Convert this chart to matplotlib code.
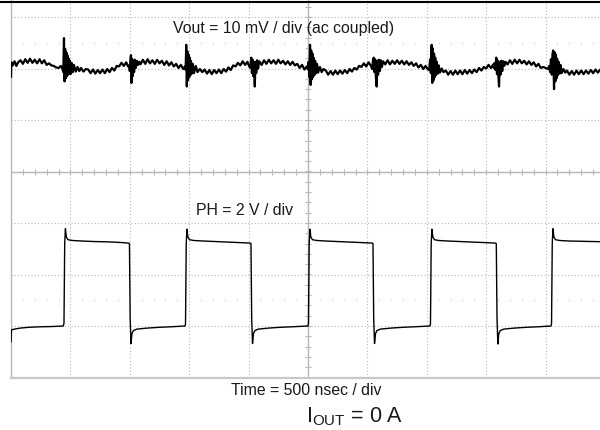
import numpy as np
import matplotlib
matplotlib.use("Agg")
import matplotlib.pyplot as plt
from matplotlib.lines import Line2D

plt.rcParams['font.family'] = ['Liberation Sans', 'DejaVu Sans']
plt.rcParams['mathtext.fontset'] = 'custom'
plt.rcParams['mathtext.rm'] = 'Liberation Sans'

# scope settings
T_DIV = 500.0        # ns / div
VOUT_DIV = 10.0      # mV / div
PH_DIV = 2.0         # V / div
VOUT_POS = 2.03      # trace position, div
PH_POS = -3.0

# Vout (ac coupled)
vout_t = [0, 3, 15, 30, 45, 60, 80, 100, 120, 140, 160, 180, 200, 220, 240, 260, 280, 300, 320, 340, 360, 380, 400, 420, 435,
          440, 446, 451, 456, 461, 466, 471, 476, 481, 486, 491, 496, 501, 510, 520, 530, 545, 560, 575, 590, 610, 630,
          650, 670, 690, 710, 730, 750, 770, 790, 810, 830, 850, 870, 890, 910, 930, 950, 970, 985,
          995, 1000, 1005, 1010, 1014, 1019, 1024, 1030, 1036, 1042, 1050, 1060, 1070, 1080,
          1090, 1110, 1130, 1150, 1170, 1190, 1210, 1230, 1250, 1270, 1290, 1310, 1330, 1350, 1370, 1390, 1410, 1430, 1450, 1465,
          1470, 1475, 1480, 1485, 1490, 1495, 1500, 1505, 1510, 1515, 1522, 1530, 1540, 1555, 1570, 1590, 1610,
          1630, 1650, 1670, 1690, 1710, 1730, 1750, 1770, 1790, 1810, 1830, 1850, 1870, 1890, 1910, 1930, 1950, 1970, 1990, 2005,
          2015, 2022, 2028, 2034, 2040, 2046, 2052, 2058, 2064, 2072, 2080, 2090,
          2110, 2130, 2150, 2170, 2190, 2210, 2230, 2250, 2270, 2290, 2310, 2330, 2350, 2370, 2390, 2410, 2430, 2450, 2470, 2490,
          2500, 2505, 2512, 2517, 2522, 2527, 2532, 2537, 2542, 2547, 2553, 2560, 2568, 2576, 2585, 2600, 2615, 2630,
          2650, 2670, 2690, 2710, 2730, 2750, 2770, 2790, 2810, 2830, 2850, 2870, 2890, 2910, 2930, 2950, 2970, 2990, 3010, 3030,
          3040, 3047, 3053, 3059, 3065, 3071, 3078, 3084, 3090, 3097, 3105, 3113, 3122, 3132,
          3150, 3170, 3190, 3210, 3230, 3250, 3270, 3290, 3310, 3330, 3350, 3370, 3390, 3410, 3430, 3450, 3470, 3490, 3510,
          3520, 3528, 3534, 3541, 3546, 3551, 3556, 3561, 3566, 3571, 3577, 3584, 3592, 3600, 3610, 3625, 3640,
          3660, 3680, 3700, 3720, 3740, 3760, 3780, 3800, 3820, 3840, 3860, 3880, 3900, 3920, 3940, 3960, 3980, 4000, 4020, 4040, 4060,
          4065, 4072, 4078, 4085, 4091, 4097, 4103, 4108, 4114, 4120, 4127, 4135, 4143, 4152, 4162,
          4180, 4200, 4220, 4240, 4260, 4280, 4300, 4320, 4340, 4360, 4380, 4400, 4420, 4440, 4460, 4480, 4500, 4520,
          4530, 4538, 4545, 4552, 4558, 4564, 4571, 4577, 4582, 4587, 4592, 4597, 4603, 4610, 4618, 4626, 4635, 4650, 4665,
          4680, 4700, 4720, 4740, 4760, 4780, 4800, 4820, 4840, 4860, 4880, 4900, 4920, 4940, 4960, 4980, 5000]
vout_mv = [-1.9, 0.9, 0.3, 1.1, 0.2, 0.9, 1.3, 0.6, 1.5, 0.8, 1.6, 0.8, 1.4, 0.7, 1.5, 0.7, 1.3, 0.4, 0.7, 0.3, 0.2, -0.1, -0.2, 0.2, -0.5,
           -1.0, 5.6, -2.8, 3.5, -2.2, 2.8, -1.8, 2.2, -1.5, 1.6, -1.2, 1.2, -1.4, 0.8, -1.0, 0.4, -0.9, 0.0, -0.8, -0.2, -0.9, -0.4,
           -0.5, -1.2, -0.5, -1.3, -0.6, -1.2, -0.5, -1.2, -0.4, -1.0, -0.2, -0.7, 0.2, 0.1, 0.8, 0.2, 0.9, 0.1,
           0.3, -0.8, 1.4, 2.3, -3.1, 1.6, -1.8, 1.2, -1.0, 1.4, -0.2, 1.2, 0.4, 1.0,
           0.5, 1.4, 0.6, 1.5, 0.7, 1.3, 0.6, 1.4, 0.7, 1.2, 0.4, 1.1, 0.3, 0.9, 0.1, 0.6, -0.2, 0.4, -0.4, 0.1,
           -0.5, 4.3, -3.8, 3.0, -2.6, 2.4, -2.0, 1.8, -1.6, 1.2, -1.3, 0.6, -1.2, 0.2, -1.0, -0.4, -1.0,
           -0.5, -1.3, -0.6, -1.4, -0.6, -1.2, -0.5, -1.2, -0.4, -0.9, -0.1, -0.6, 0.3, 0.1, 0.8, 0.3, 1.1, 0.4, 1.0, 0.1,
           -0.2, 1.8, -1.2, 1.4, -1.8, 0.9, -3.8, 1.0, -1.2, 1.3, -0.3, 1.1,
           0.4, 1.3, 0.6, 1.4, 0.7, 1.3, 0.6, 1.4, 0.7, 1.2, 0.5, 1.1, 0.4, 1.0, 0.3, 0.6, -0.2, 0.4, -0.5, 0.1,
           -0.5, 1.0, -2.0, 4.3, -3.5, 3.2, -2.4, 2.6, -2.0, 1.8, -1.6, 1.2, -1.2, 0.6, -1.1, 0.0, -1.0, -0.4,
           -0.7, -1.5, -0.8, -1.5, -0.7, -1.4, -0.7, -1.3, -0.6, -1.2, -0.4, -0.9, -0.2, -0.5, 0.2, 0.0, 0.7, 0.1, 0.9, 0.2,
           -0.4, 1.2, 1.8, -1.0, 1.5, -1.8, -3.8, 1.2, -1.5, 1.4, -0.8, 1.3, 0.0, 1.1,
           0.5, 1.3, 0.5, 1.2, 0.6, 1.3, 0.6, 1.2, 0.5, 1.1, 0.4, 0.9, 0.2, 0.7, -0.1, 0.4, -0.4, 0.2, -0.5,
           -0.6, 1.5, -1.2, 4.3, -3.1, 3.6, -2.6, 2.6, -2.0, 1.8, -1.6, 1.0, -1.3, 0.3, -1.1, -0.3, -1.0,
           -0.7, -1.5, -0.8, -1.5, -0.7, -1.4, -0.7, -1.4, -0.6, -1.3, -0.6, -1.2, -0.5, -1.0, -0.2, -0.7, 0.0, -0.3, 0.4, -0.2, 0.5,
           -0.2, 0.8, -0.6, 1.8, -1.4, 1.2, -1.8, -3.8, 1.0, -1.5, 1.2, -0.8, 1.1, 0.2, 1.0,
           0.5, 1.3, 0.6, 1.4, 0.7, 1.4, 0.7, 1.2, 0.5, 1.1, 0.4, 0.9, 0.1, 0.6, -0.2, 0.0, -0.2, -0.4,
           0.2, -1.0, 1.5, -1.5, 2.5, 3.2, -4.3, 2.8, -2.8, 2.4, -2.2, 1.6, -1.6, 1.0, -1.3, 0.4, -1.2, -0.4, -1.1,
           -0.7, -1.5, -0.8, -1.5, -0.7, -1.4, -0.7, -1.4, -0.7, -1.3, -0.6, -1.2, -0.5, -1.1, -0.5, -1.0, -0.4]

# PH switch node
ph_t = [0, 4, 30, 80, 150, 250, 350, 440,
        446, 452, 458, 466, 480, 520, 600, 700, 800, 900, 990,
        997, 1003, 1010, 1018, 1030, 1060, 1150, 1250, 1350, 1465,
        1469, 1475, 1481, 1489, 1503, 1540, 1620, 1720, 1820, 1920, 2013,
        2020, 2026, 2033, 2041, 2053, 2083, 2170, 2270, 2370, 2500,
        2504, 2510, 2516, 2524, 2538, 2575, 2650, 2750, 2850, 2950, 3040,
        3047, 3053, 3060, 3068, 3080, 3110, 3200, 3300, 3400, 3527,
        3531, 3537, 3543, 3551, 3565, 3600, 3680, 3780, 3880, 3980, 4078,
        4085, 4091, 4098, 4106, 4118, 4148, 4240, 4340, 4440, 4546,
        4550, 4556, 4562, 4570, 4584, 4620, 4700, 4800, 4900, 5000]
ph_v = [-0.62, -0.15, -0.12, -0.08, -0.05, -0.03, -0.02, 0.0,
        0.1, 3.2, 3.78, 3.45, 3.35, 3.32, 3.30, 3.28, 3.27, 3.25, 3.22,
        3.2, 0.3, -0.68, -0.3, -0.18, -0.12, -0.08, -0.05, -0.03, 0.0,
        0.1, 3.2, 3.76, 3.45, 3.35, 3.32, 3.30, 3.28, 3.26, 3.24, 3.22,
        3.2, 0.3, -0.68, -0.3, -0.18, -0.12, -0.08, -0.05, -0.03, 0.0,
        0.1, 3.2, 3.76, 3.45, 3.35, 3.32, 3.30, 3.28, 3.26, 3.24, 3.22,
        3.2, 0.3, -0.68, -0.3, -0.18, -0.12, -0.08, -0.05, -0.03, 0.0,
        0.1, 3.2, 3.76, 3.45, 3.35, 3.32, 3.30, 3.28, 3.26, 3.24, 3.22,
        3.2, 0.3, -0.70, -0.3, -0.18, -0.12, -0.08, -0.05, -0.03, 0.0,
        0.1, 3.2, 3.78, 3.45, 3.35, 3.32, 3.30, 3.29, 3.28, 3.27]

GRID = '#b8b8b8'

fig = plt.figure(figsize=(6, 4.3), dpi=100)
ax = fig.add_axes([11 / 600, 52.5 / 430, 594 / 600, 412 / 430])
ax.set_xlim(0, 10 * T_DIV)
ax.set_ylim(-4, 4)
ax.set_xticks(np.arange(0, 10 * T_DIV + 1, T_DIV))
ax.set_yticks(np.arange(-4, 5, 1))
ax.tick_params(length=0, labelbottom=False, labelleft=False)
ax.grid(True, color=GRID, linestyle=(0, (1, 2)), linewidth=0.8)
for s in ['top', 'right']:
    ax.spines[s].set_visible(False)
ax.spines['left'].set_color(GRID)
ax.spines['left'].set_linewidth(1.0)
ax.spines['bottom'].set_color('#c8c8c8')
ax.spines['bottom'].set_linewidth(1.6)

# center crosshair with minor ticks
ax.axhline(0, color=GRID, linewidth=1.0)
ax.axvline(5 * T_DIV, color=GRID, linewidth=1.0)
minor_x = np.arange(0, 10 * T_DIV + 1, T_DIV / 5)
minor_y = np.arange(-4, 4.01, 0.2)
ax.plot(minor_x, np.zeros(len(minor_x)), linestyle='none', marker='|', markersize=4, color=GRID, markeredgewidth=0.8)
ax.plot(np.full(len(minor_y), 5 * T_DIV), minor_y, linestyle='none', marker='_', markersize=4, color=GRID, markeredgewidth=0.8)
# faint dot rows
dots_x = [x for x in minor_x if x % T_DIV != 0]
for yrow in [2.5, -2.5]:
    ax.plot(dots_x, np.full(len(dots_x), yrow), linestyle='none', marker='s', markersize=0.7,
            markeredgewidth=0, color='#c4c4c4')

# channels on their own scales
ax_v = ax.twinx()
ax_v.set_ylim(-(4 + VOUT_POS) * VOUT_DIV, (4 - VOUT_POS) * VOUT_DIV)
ax_v.axis('off')
ax_v.plot(vout_t, vout_mv, color='black', linewidth=1.6)

ax_p = ax.twinx()
ax_p.set_ylim(-(4 + PH_POS) * PH_DIV, (4 - PH_POS) * PH_DIV)
ax_p.axis('off')
ax_p.plot(ph_t, ph_v, color='black', linewidth=1.0)

# labels
fs = 11.4
fig.text(283.5 / 600, 1 - 33 / 430, 'Vout = 10 mV / div (ac coupled)', ha='center', va='baseline', fontsize=fs, color='#1a1a1a')
fig.text(245 / 600, 1 - 215 / 430, 'PH = 2 V / div', ha='center', va='baseline', fontsize=fs, color='#1a1a1a')
fig.text(306.7 / 600, 1 - 395 / 430, 'Time = 500 nsec / div', ha='center', va='baseline', fontsize=fs, color='#1a1a1a')
fig.text(355 / 600, 1 - 422.7 / 430, r'$\mathregular{I_{OUT}}$ = 0 A', ha='center', va='baseline', fontsize=15.5, color='#1a1a1a')

# top border
fig.add_artist(Line2D([0, 1], [1 - 1.7 / 430, 1 - 1.7 / 430], color='black', linewidth=1.5))

fig.savefig('out.png', dpi=100)
